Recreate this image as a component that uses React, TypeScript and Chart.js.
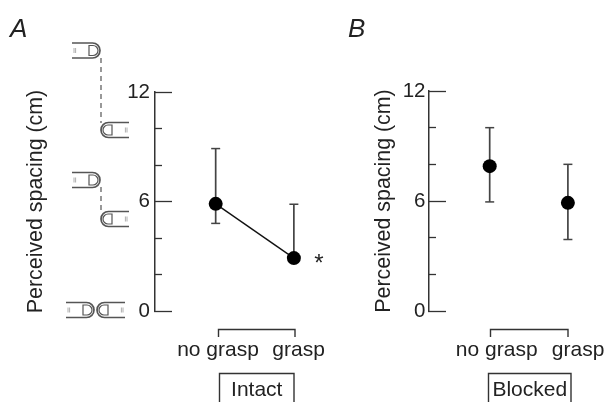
import React, { useEffect, useRef } from "react";
import { Chart, registerables } from "chart.js";

Chart.register(...registerables);

const categories = ["no grasp", "grasp"];
const conditionX = [1, 2];
const majorTicks = [0, 6, 12];
const minorTicks = [2, 4, 8, 10];

const intactMeans = [5.87, 2.9];
const intactUpper = [8.9, 5.85];
const intactLower = [4.8, 2.9];
const intactLabelX = [1.03, 2.06];

const blockedMeans = [7.9, 5.9];
const blockedUpper = [10, 8];
const blockedLower = [5.95, 3.9];
const blockedLabelX = [1.09, 2.13];

const FONT = '"Liberation Sans", Arial, sans-serif';
const INK = "#222";
const LINE = "#333";

function drawFinger(ctx: CanvasRenderingContext2D, tipX: number, y: number, dir: number, len = 28) {
  const r = 7.5;
  const baseX = tipX - dir * len;
  const cx = tipX - dir * r;
  ctx.save();
  ctx.strokeStyle = "#555";
  ctx.lineWidth = 1.7;
  ctx.beginPath();
  ctx.moveTo(baseX, y - r);
  ctx.lineTo(cx, y - r);
  ctx.arc(cx, y, r, -Math.PI / 2, Math.PI / 2, dir < 0);
  ctx.lineTo(baseX, y + r);
  ctx.stroke();
  // nail
  ctx.lineWidth = 1.2;
  const nailX = tipX - dir * 11;
  ctx.beginPath();
  ctx.moveTo(nailX, y - 5);
  ctx.lineTo(tipX - dir * 7, y - 5);
  ctx.arc(tipX - dir * 7, y, 5, -Math.PI / 2, Math.PI / 2, dir < 0);
  ctx.lineTo(nailX, y + 5);
  ctx.closePath();
  ctx.stroke();
  // knuckle marks
  ctx.strokeStyle = "#999";
  ctx.lineWidth = 0.8;
  ctx.beginPath();
  for (const dx of [2, 3.6]) {
    ctx.moveTo(baseX + dir * dx, y - 2.5);
    ctx.lineTo(baseX + dir * dx, y + 2.5);
  }
  ctx.stroke();
  ctx.restore();
}

type Panel = {
  title: string;
  group: string;
  width: number;
  axisX: number;
  top: number;
  yTitleCenter: number;
  labelGap: number;
  xMin: number;
  xMax: number;
  means: number[];
  upper: number[];
  lower: number[];
  labelX: number[];
  connect: boolean;
  bracket: number[];
  box: number[];
  titleX: number;
  star: boolean;
  fingers: boolean;
};

const panelA: Panel = {
  title: "A", group: "Intact", width: 340, axisX: 155, top: 92, yTitleCenter: 36, labelGap: 5,
  xMin: 0.224, xMax: 2.59, means: intactMeans, upper: intactUpper, lower: intactLower,
  labelX: intactLabelX, connect: true, bracket: [218.5, 295], box: [219.5, 294], titleX: 10, star: true, fingers: true,
};
const panelB: Panel = {
  title: "B", group: "Blocked", width: 267, axisX: 89, top: 91, yTitleCenter: 44, labelGap: 3.5,
  xMin: 0.224, xMax: 2.5, means: blockedMeans, upper: blockedUpper, lower: blockedLower,
  labelX: blockedLabelX, connect: false, bracket: [150.5, 228], box: [148.5, 231], titleX: 8, star: false, fingers: false,
};

function makeChart(canvas: HTMLCanvasElement, p: Panel) {
  const whiskers = conditionX.map((x, i) => ({
    data: [{ x, y: p.lower[i] }, { x, y: p.upper[i] }],
    borderColor: "#444",
    borderWidth: 1.7,
    showLine: true,
    pointStyle: "line" as const,
    pointRadius: 4.5,
    pointBorderColor: "#444",
    pointBorderWidth: 1.5,
  }));
  const decor = {
    id: "decor",
    afterDraw(chart: any) {
      const ctx: CanvasRenderingContext2D = chart.ctx;
      ctx.save();
      ctx.fillStyle = INK;
      ctx.textBaseline = "alphabetic";
      ctx.textAlign = "left";
      ctx.font = `italic 26px ${FONT}`;
      ctx.fillText(p.title, p.titleX, 37);

      ctx.strokeStyle = LINE;
      ctx.lineWidth = 1.4;
      ctx.beginPath();
      ctx.moveTo(p.bracket[0], 337);
      ctx.lineTo(p.bracket[0], 329.5);
      ctx.lineTo(p.bracket[1], 329.5);
      ctx.lineTo(p.bracket[1], 337);
      ctx.stroke();

      ctx.beginPath();
      ctx.moveTo(p.box[0], 402);
      ctx.lineTo(p.box[0], 373.5);
      ctx.lineTo(p.box[1], 373.5);
      ctx.lineTo(p.box[1], 402);
      ctx.stroke();

      ctx.font = `21px ${FONT}`;
      ctx.textAlign = "center";
      ctx.fillText(p.group, (p.box[0] + p.box[1]) / 2, 396);

      if (p.star) {
        ctx.font = `24px ${FONT}`;
        ctx.fillText("*", 319, 271);
      }
      if (p.fingers) {
        ctx.strokeStyle = "#555";
        ctx.lineWidth = 1.2;
        ctx.setLineDash([5, 4]);
        ctx.beginPath();
        ctx.moveTo(101, 58);
        ctx.lineTo(101, 123);
        ctx.moveTo(101, 187);
        ctx.lineTo(101, 212);
        ctx.stroke();
        ctx.setLineDash([]);
        drawFinger(ctx, 100, 50.5, 1);
        drawFinger(ctx, 101, 130, -1);
        drawFinger(ctx, 100, 180, 1);
        drawFinger(ctx, 101, 219, -1);
        drawFinger(ctx, 94, 310, 1);
        drawFinger(ctx, 97, 310, -1);
      }
      ctx.restore();
    },
  };

  return new Chart(canvas, {
    type: "scatter",
    data: {
      datasets: [
        {
          data: conditionX.map((x, i) => ({ x, y: p.means[i] })),
          showLine: p.connect,
          borderColor: "#111",
          borderWidth: 1.4,
          backgroundColor: "#000",
          pointBackgroundColor: "#000",
          pointBorderColor: "#000",
          pointRadius: 7,
          pointBorderWidth: 0,
        },
        ...whiskers,
      ],
    },
    options: {
      responsive: false,
      animation: false,
      events: [],
      layout: { autoPadding: false, padding: { top: p.top, left: 0, right: 0, bottom: 0 } },
      plugins: { legend: { display: false }, tooltip: { enabled: false }, title: { display: false } },
      scales: {
        x: {
          type: "linear",
          min: p.xMin,
          max: p.xMax,
          border: { display: false },
          grid: { display: false, drawTicks: false },
          afterBuildTicks: (s: any) => {
            s.ticks = p.labelX.map((value) => ({ value }));
          },
          afterFit: (s: any) => {
            s.height = 91;
            s.paddingLeft = 0;
            s.paddingRight = 0;
          },
          ticks: {
            autoSkip: false,
            maxRotation: 0,
            padding: 27,
            color: INK,
            font: { family: FONT, size: 21 },
            callback: (_v: any, i: number) => categories[i],
          },
        },
        yMinor: {
          type: "linear",
          position: "left",
          weight: 1,
          min: 0,
          max: 12,
          border: { display: false },
          grid: { drawOnChartArea: false, tickLength: -7, tickColor: LINE, tickWidth: 1.3 },
          ticks: { display: false },
          afterBuildTicks: (s: any) => {
            s.ticks = minorTicks.map((value) => ({ value }));
          },
          afterFit: (s: any) => {
            s.width = 0;
            s.paddingTop = 0;
            s.paddingBottom = 0;
          },
        },
        y: {
          type: "linear",
          position: "left",
          weight: 2,
          min: 0,
          max: 12,
          border: { display: true, color: LINE, width: 1.5 },
          grid: { drawOnChartArea: false, tickLength: -17, tickColor: LINE, tickWidth: 1.3 },
          afterBuildTicks: (s: any) => {
            s.ticks = majorTicks.map((value) => ({ value }));
          },
          afterFit: (s: any) => {
            s.width = p.axisX;
            s.paddingTop = 0;
            s.paddingBottom = 0;
          },
          ticks: {
            padding: 17 + p.labelGap,
            color: INK,
            font: { family: FONT, size: 20.5 },
            callback: (v: any) => String(v),
          },
          title: {
            display: true,
            text: "Perceived spacing (cm)",
            color: INK,
            font: { family: FONT, size: 21.4 },
            padding: { top: p.yTitleCenter - 12.8, bottom: 0 },
          },
        },
      },
    },
    plugins: [decor],
  } as any);
}

export default function App() {
  const aRef = useRef<HTMLCanvasElement>(null);
  const bRef = useRef<HTMLCanvasElement>(null);
  useEffect(() => {
    const a = makeChart(aRef.current!, panelA);
    const b = makeChart(bRef.current!, panelB);
    return () => {
      a.destroy();
      b.destroy();
    };
  }, []);
  return (
    <div style={{ position: "fixed", left: 0, top: 0, width: 607, height: 402, background: "#fff", overflow: "hidden" }}>
      <canvas ref={aRef} width={panelA.width} height={402} style={{ position: "absolute", left: 0, top: 0 }} />
      <canvas ref={bRef} width={panelB.width} height={402} style={{ position: "absolute", left: 340, top: 0 }} />
    </div>
  );
}
